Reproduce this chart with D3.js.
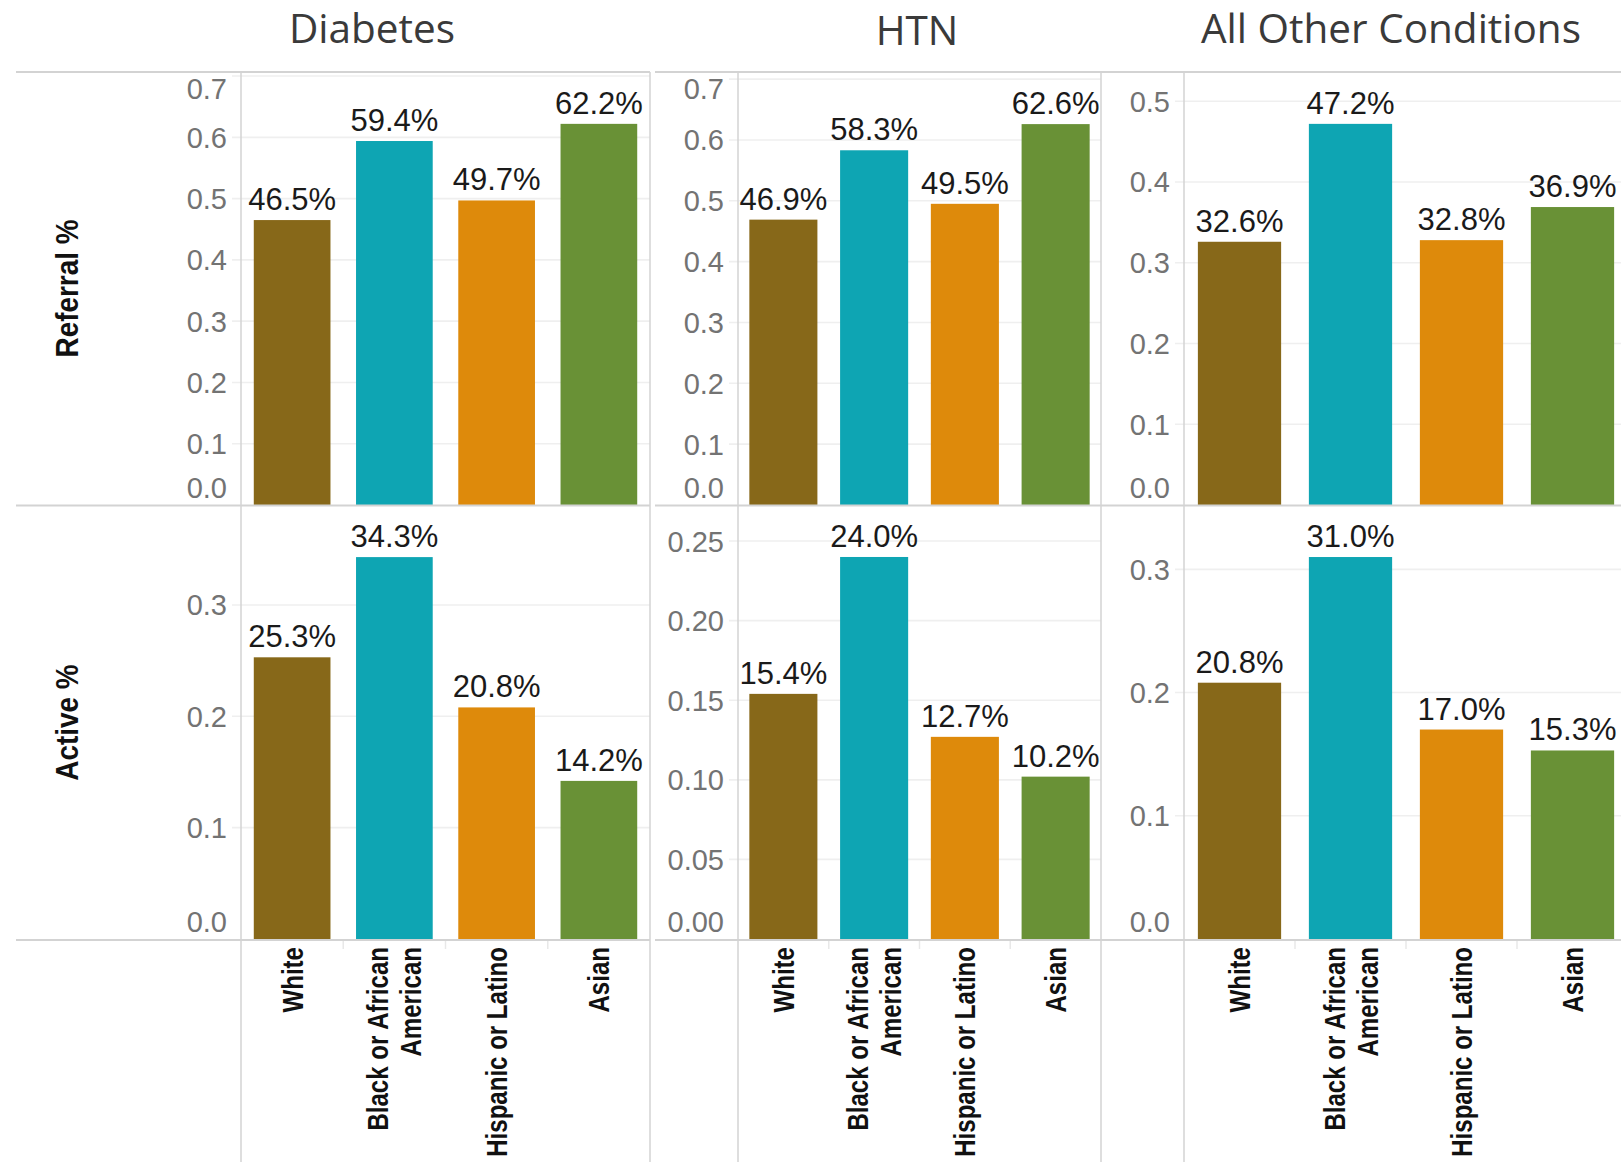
<!DOCTYPE html>
<html>
<head>
<meta charset="utf-8">
<script src="https://cdn.jsdelivr.net/npm/d3@7"></script>
<style>
  body { margin: 0; background: #fff; overflow: hidden; }
  svg { display: block; }
</style>
</head>
<body>
<svg id="canvas" width="1621" height="1162"></svg>
<script>
let categories = ['White', 'Black or African American', 'Hispanic or Latino', 'Asian']
let conditions = ['Diabetes', 'HTN', 'All Other Conditions']
let measures = ['Referral %', 'Active %']

let referralDiabetes = [0.465, 0.594, 0.497, 0.622]
let referralHTN = [0.469, 0.583, 0.495, 0.626]
let referralOther = [0.326, 0.472, 0.328, 0.369]
let activeDiabetes = [0.253, 0.343, 0.208, 0.142]
let activeHTN = [0.154, 0.240, 0.127, 0.102]
let activeOther = [0.208, 0.310, 0.170, 0.153]

let referralTicks = [[0, 0.1, 0.2, 0.3, 0.4, 0.5, 0.6, 0.7], [0, 0.1, 0.2, 0.3, 0.4, 0.5, 0.6, 0.7], [0, 0.1, 0.2, 0.3, 0.4, 0.5]]
let activeTicks = [[0, 0.1, 0.2, 0.3], [0, 0.05, 0.10, 0.15, 0.20, 0.25], [0, 0.1, 0.2, 0.3]]
let tickFormats = [['.1f', '.1f', '.1f'], ['.1f', '.2f', '.1f']]
// axis tops picked by the reference's auto range
let referralMax = [0.705, 0.71, 0.535]
let activeMax = [0.388, 0.2714, 0.3506]

let colors = ['#876819', '#0ea5b3', '#de8a0b', '#699136']

let rows = [
  { name: measures[0], values: [referralDiabetes, referralHTN, referralOther], ticks: referralTicks, max: referralMax, top: 72, bottom: 505 },
  { name: measures[1], values: [activeDiabetes, activeHTN, activeOther], ticks: activeTicks, max: activeMax, top: 506, bottom: 939 }
]
let panes = [
  { axis: 241, right: 650, titleX: 372, titleY: 43 },
  { axis: 738, right: 1101, titleX: 917, titleY: 45 },
  { axis: 1184, right: 1628, titleX: 1391, titleY: 43 }
]

let canvas = d3.select('#canvas')
let lineColor = '#d3d3d3'
let sans = 'Liberation Sans, Arial, sans-serif'

// titles
canvas.selectAll('text.title')
  .data(conditions)
  .enter()
  .append('text')
  .attr('class', 'title')
  .attr('x', (d, i) => panes[i].titleX)
  .attr('y', (d, i) => panes[i].titleY)
  .attr('text-anchor', 'middle')
  .attr('font-family', 'Open Sans, sans-serif')
  .attr('font-size', 40.5)
  .attr('fill', '#3a3a3a')
  .text(d => d)

let gridLayer = canvas.append('g')
let barLayer = canvas.append('g')
let frameLayer = canvas.append('g')

rows.forEach((row, r) => {
  // row header
  let midY = (row.top + row.bottom) / 2
  canvas.append('text')
    .attr('transform', `translate(${67 + 11},${midY}) rotate(-90) scale(0.9,1)`)
    .attr('text-anchor', 'middle')
    .attr('font-family', sans)
    .attr('font-weight', 'bold')
    .attr('font-size', 31)
    .attr('fill', '#111')
    .text(row.name)

  panes.forEach((pane, c) => {
    let x = d3.scaleBand()
      .domain(categories)
      .range([pane.axis, pane.right])
      .paddingInner(0.25)
      .paddingOuter(0.125)
    let y = d3.scaleLinear()
      .domain([0, row.max[c]])
      .range([row.bottom, row.bottom - 432])
    let fmt = d3.format(tickFormats[r][c])

    // gridlines
    gridLayer.selectAll(null)
      .data(row.ticks[c].filter(t => t > 0))
      .enter()
      .append('line')
      .attr('x1', pane.axis - 9)
      .attr('x2', Math.min(pane.right, 1621))
      .attr('y1', d => y(d))
      .attr('y2', d => y(d))
      .attr('stroke', '#efefef')
      .attr('stroke-width', 1.6)

    // y axis labels
    let axis = d3.axisLeft(y)
      .tickValues(row.ticks[c])
      .tickFormat(fmt)
      .tickSize(0)
      .tickPadding(14)
    let g = canvas.append('g')
      .attr('transform', `translate(${pane.axis},0)`)
      .call(axis)
    g.select('.domain').remove()
    g.selectAll('.tick')
      .attr('transform', d => {
        let cy = Math.max(row.top + 17, Math.min(row.bottom - 17, y(d)))
        return `translate(0,${cy})`
      })
    g.selectAll('.tick text')
      .attr('font-family', sans)
      .attr('font-size', 29)
      .attr('fill', '#737373')
      .attr('dy', '0.36em')

    // bars
    let vals = row.values[c]
    barLayer.selectAll(null)
      .data(vals)
      .enter()
      .append('rect')
      .attr('x', (d, i) => x(categories[i]))
      .attr('width', x.bandwidth())
      .attr('y', d => y(d))
      .attr('height', d => y(0) - y(d))
      .attr('fill', (d, i) => colors[i])

    barLayer.selectAll(null)
      .data(vals)
      .enter()
      .append('text')
      .attr('x', (d, i) => x(categories[i]) + x.bandwidth() / 2)
      .attr('y', d => y(d) - 10)
      .attr('text-anchor', 'middle')
      .attr('font-family', sans)
      .attr('font-size', 31)
      .attr('fill', '#1a1a1a')
      .text(d => d3.format('.1%')(d))

    // category labels under the bottom row
    if (r === rows.length - 1) {
      categories.forEach((cat, i) => {
        let cx = x(cat) + x.bandwidth() / 2
        let lines = cat === 'Black or African American' ? ['Black or African', 'American'] : [cat]
        lines.forEach((ln, k) => {
          let off = (k - (lines.length - 1) / 2) * 33
          canvas.append('text')
            .attr('transform', `translate(${cx + off + 10.5},947) rotate(-90) scale(0.83,1)`)
            .attr('text-anchor', 'end')
            .attr('font-family', sans)
            .attr('font-weight', 'bold')
            .attr('font-size', 29)
            .attr('fill', '#111')
            .text(ln)
        })
      })
      // little ticks between categories
      frameLayer.selectAll(null)
        .data(categories.slice(1))
        .enter()
        .append('line')
        .attr('x1', d => x(d) - x.step() * 0.125)
        .attr('x2', d => x(d) - x.step() * 0.125)
        .attr('y1', 940)
        .attr('y2', 949)
        .attr('stroke', '#e8e8e8')
        .attr('stroke-width', 1.5)
    }
  })
})

// frame lines
let hLines = [72, 505.5, 940]
hLines.forEach(yy => {
  frameLayer.append('line').attr('x1', 16).attr('x2', 650).attr('y1', yy).attr('y2', yy)
    .attr('stroke', lineColor).attr('stroke-width', 1.8)
  frameLayer.append('line').attr('x1', 655).attr('x2', 1621).attr('y1', yy).attr('y2', yy)
    .attr('stroke', lineColor).attr('stroke-width', 1.8)
})
let vLines = [241, 650, 738, 1101, 1184]
vLines.forEach(xx => {
  frameLayer.append('line').attr('x1', xx).attr('x2', xx).attr('y1', 72).attr('y2', 1162)
    .attr('stroke', lineColor).attr('stroke-width', 1.5)
})
</script>
</body>
</html>
